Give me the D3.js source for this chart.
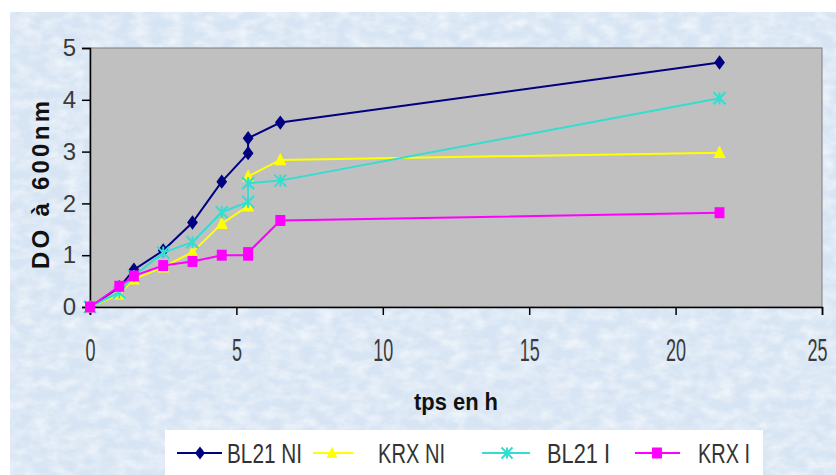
<!DOCTYPE html>
<html><head><meta charset="utf-8">
<script src="https://cdn.jsdelivr.net/npm/d3@7"></script>
<style>
html,body{margin:0;padding:0;background:#fff;}
svg{display:block;}
</style></head>
<body>
<svg id="chart" width="836" height="475"></svg>
<script>
// ---- data ----
const times  = [0, 1, 1.5, 2.5, 3.5, 4.5, 5.4, 5.4, 6.5, 21.5];
const bl21NI = [0, 0.38, 0.72, 1.09, 1.63, 2.42, 2.97, 3.26, 3.56, 4.72];
const krxNI  = [0, 0.25, 0.54, 0.77, 1.06, 1.61, 1.95, 2.52, 2.84, 2.98];
const bl21I  = [0, 0.28, 0.60, 1.05, 1.25, 1.83, 2.03, 2.39, 2.44, 4.03];
const krxI   = [0, 0.40, 0.60, 0.80, 0.88, 1.00, 1.00, 1.05, 1.67, 1.82];
const seriesNames = ["BL21 NI", "KRX NI", "BL21 I", "KRX I"];
const xTicks = [0, 5, 10, 15, 20, 25];
const yTicks = [0, 1, 2, 3, 4, 5];

const series = [
  {name: seriesNames[0], values: bl21NI, color: "#000080", marker: "diamond"},
  {name: seriesNames[1], values: krxNI,  color: "#ffff00", marker: "triangle"},
  {name: seriesNames[2], values: bl21I,  color: "#33ddd0", marker: "star"},
  {name: seriesNames[3], values: krxI,   color: "#ff00ff", marker: "square"}
];

const svg = d3.select("#chart");
const defs = svg.append("defs");
const f = defs.append("filter").attr("id","mottle").attr("x",0).attr("y",0).attr("width","100%").attr("height","100%");
f.append("feTurbulence").attr("type","fractalNoise").attr("baseFrequency","0.06 0.1").attr("numOctaves",3).attr("seed",4).attr("result","n");
f.append("feColorMatrix").attr("in","n").attr("type","matrix")
  .attr("values","0 0 0 0 1  0 0 0 0 1  0 0 0 0 1  0 0 0 -1.8 1.2");

// background
svg.append("rect").attr("x",0).attr("y",0).attr("width",836).attr("height",475).attr("fill","#ffffff");
svg.append("rect").attr("x",10).attr("y",12).attr("width",826).attr("height",463).attr("fill","#d6e4f3");
svg.append("rect").attr("x",10).attr("y",12).attr("width",826).attr("height",463).attr("filter","url(#mottle)").attr("opacity",0.6);

const x = d3.scaleLinear().domain([0,25]).range([90,822]);
const y = d3.scaleLinear().domain([0,5]).range([307,48]);

// plot area
svg.append("rect").attr("x",x(0)).attr("y",y(5)).attr("width",x(25)-x(0)).attr("height",y(0)-y(5))
  .attr("fill","#c0c0c0").attr("stroke","#7f7f7f").attr("stroke-width",1);

const tickFont = "'Liberation Sans Narrow','Arial Narrow',sans-serif";

// y axis
const ya = svg.append("g").attr("transform",`translate(${x(0)},0)`)
  .call(d3.axisLeft(y).tickValues(yTicks).tickSize(8).tickPadding(6).tickFormat(d3.format("d")));
ya.select(".domain").attr("stroke","#000").attr("stroke-width",1.5);
ya.selectAll(".tick line").attr("stroke","#000").attr("stroke-width",1.5);
ya.selectAll(".tick text").attr("font-family",tickFont).attr("font-size",24).attr("fill","#3a3a3a");

// x axis
const xa = svg.append("g").attr("transform",`translate(0,${y(0)})`)
  .call(d3.axisBottom(x).tickValues(xTicks).tickSize(8).tickPadding(24).tickFormat(d3.format("d")));
xa.select(".domain").attr("stroke","#000").attr("stroke-width",1.5);
xa.selectAll(".tick line").attr("stroke","#000").attr("stroke-width",1.5);
xa.selectAll(".tick text").attr("font-family",tickFont).attr("font-size",31).attr("fill","#3a3a3a")
  .attr("transform", d => d === 25 ? "translate(-5,0) scale(0.58,1)" : "scale(0.58,1)");

// axis titles
svg.append("text").attr("transform",`translate(49,185) rotate(-90)`).attr("text-anchor","middle")
  .attr("font-family","'Liberation Sans',Arial,sans-serif").attr("font-weight","bold").attr("font-size",24)
  .attr("fill","#111").attr("textLength",168).attr("lengthAdjust","spacing").text("DO à 600nm");
svg.append("text").attr("x",456).attr("y",410).attr("text-anchor","middle")
  .attr("font-family",tickFont).attr("font-weight","bold").attr("font-size",24)
  .attr("fill","#111").attr("textLength",84).attr("lengthAdjust","spacingAndGlyphs").text("tps en h");

// markers
function drawMarker(g, type, cx, cy, color, s) {
  if (type === "diamond") {
    g.append("path").attr("d",`M${cx},${cy-s*0.6}L${cx+s*0.45},${cy}L${cx},${cy+s*0.6}L${cx-s*0.45},${cy}Z`).attr("fill",color);
  } else if (type === "triangle") {
    g.append("path").attr("d",`M${cx},${cy-s*0.6}L${cx+s*0.5},${cy+s*0.45}L${cx-s*0.5},${cy+s*0.45}Z`).attr("fill",color);
  } else if (type === "square") {
    g.append("rect").attr("x",cx-s*0.45).attr("y",cy-s*0.5).attr("width",s*0.9).attr("height",s).attr("fill",color);
  } else if (type === "star") {
    const r = s*0.5;
    g.append("path").attr("d",`M${cx-r},${cy-r}L${cx+r},${cy+r}M${cx-r},${cy+r}L${cx+r},${cy-r}M${cx},${cy-r}L${cx},${cy+r}`)
      .attr("stroke",color).attr("stroke-width",2).attr("fill","none");
  }
}

const line = d3.line().x(d => x(d[0])).y(d => y(d[1]));
series.forEach(s => {
  const pts = times.map((t,i) => [t, s.values[i]]);
  const g = svg.append("g");
  g.append("path").attr("d", line(pts)).attr("fill","none").attr("stroke",s.color).attr("stroke-width",2);
  pts.forEach(p => drawMarker(g, s.marker, x(p[0]), y(p[1]), s.color, s.marker==="square" ? 11 : 12));
});

// legend
svg.append("rect").attr("x",165).attr("y",430).attr("width",598).attr("height",50).attr("fill","#ffffff");
const legendPos = [
  {lx1:177, lx2:222, mx:200, tx:227, tl:75},
  {lx1:313, lx2:353, mx:332, tx:378, tl:67},
  {lx1:482, lx2:530, mx:507, tx:547, tl:63},
  {lx1:635, lx2:680, mx:657, tx:698, tl:52}
];
const ly = 453;
series.forEach((s,i) => {
  const p = legendPos[i];
  const g = svg.append("g");
  g.append("line").attr("x1",p.lx1).attr("x2",p.lx2).attr("y1",ly).attr("y2",ly).attr("stroke",s.color).attr("stroke-width",2);
  drawMarker(g, s.marker, p.mx, ly, s.color, 11);
  g.append("text").attr("x",p.tx).attr("y",ly+10).attr("font-family",tickFont).attr("font-size",27)
    .attr("fill","#333").attr("textLength",p.tl).attr("lengthAdjust","spacingAndGlyphs").text(s.name);
});
</script>
</body></html>
